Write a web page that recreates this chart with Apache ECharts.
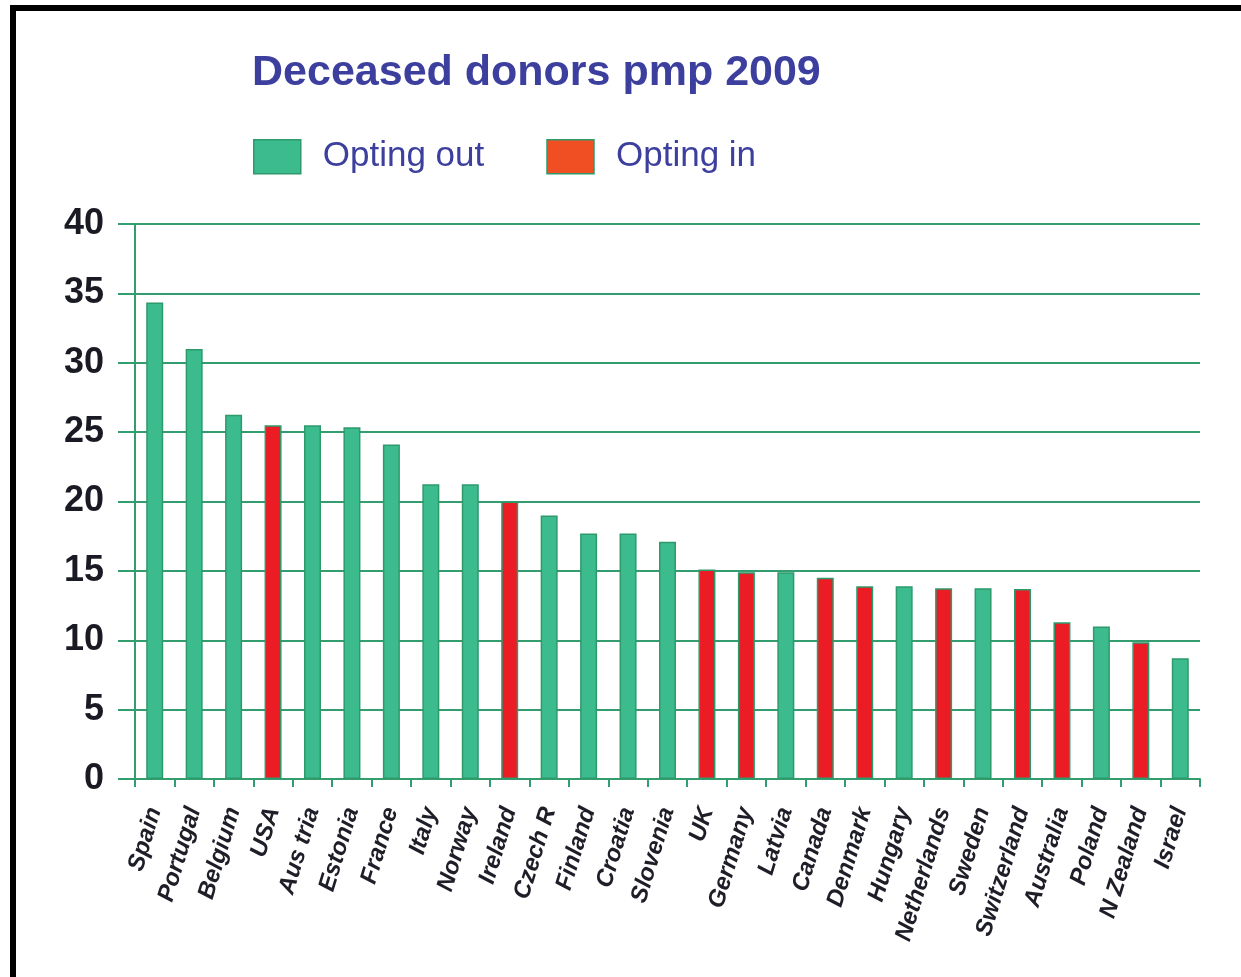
<!DOCTYPE html>
<html>
<head>
<meta charset="utf-8">
<script src="https://cdn.jsdelivr.net/npm/echarts@6/dist/echarts.min.js"></script>
<style>
html,body{margin:0;padding:0;background:#fff;}
#chart{width:1241px;height:977px;}
</style>
</head>
<body>
<div id="chart"></div>
<script>
const categories = ['Spain','Portugal','Belgium','USA','Aus tria','Estonia','France','Italy','Norway','Ireland','Czech R','Finland','Croatia','Slovenia','UK','Germany','Latvia','Canada','Denmark','Hungary','Netherlands','Sweden','Switzerland','Australia','Poland','N Zealand','Israel'];
const values = [34.35,31.0,26.25,25.5,25.5,25.35,24.1,21.25,21.25,20.0,19.0,17.7,17.7,17.1,15.1,14.9,14.9,14.5,13.9,13.9,13.75,13.75,13.7,11.3,11.0,9.85,8.7];
const policy = ['out','out','out','in','out','out','out','out','out','in','out','out','out','out','in','in','out','in','in','out','in','out','in','in','out','in','out'];
const yTicks = [0,5,10,15,20,25,30,35,40];

const outData = values.map((v,i)=> policy[i]==='out' ? v : '-');
const inData = values.map((v,i)=> policy[i]==='in' ? v : '-');

const green = '#3cbb8e', greenEdge = '#2e9a6c', red = '#ec1c24', navy = '#3c3f9d', axisGreen = '#339d70';

const chart = echarts.init(document.getElementById('chart'));
chart.setOption({
  backgroundColor: '#fff',
  animation: false,
  title: {
    text: 'Deceased donors pmp 2009',
    left: 252, top: 52, padding: 0,
    textStyle: {color: navy, fontSize: 43, fontWeight: 'bold', fontFamily: 'Liberation Sans, Arial, sans-serif'}
  },
  legend: {
    left: 253, top: 139, padding: 0,
    itemWidth: 47, itemHeight: 34, itemGap: 62,
    icon: 'rect',
    textStyle: {color: navy, fontSize: 35, fontFamily: 'Liberation Sans, Arial, sans-serif', padding: [0,0,0,17]},
    data: [
      {name: 'Opting out', itemStyle: {color: green, borderColor: greenEdge, borderWidth: 1.5}},
      {name: 'Opting in', itemStyle: {color: '#f04f24', borderColor: greenEdge, borderWidth: 1.5}}
    ]
  },
  graphic: [
    {type: 'rect', shape: {x: 10, y: 5, width: 1231, height: 6}, style: {fill: '#000'}},
    {type: 'rect', shape: {x: 10, y: 5, width: 6, height: 972}, style: {fill: '#000'}}
  ],
  grid: {left: 135, right: 41, top: 224, bottom: 198, containLabel: false},
  xAxis: {
    type: 'category',
    data: categories,
    boundaryGap: true,
    axisLine: {lineStyle: {color: axisGreen, width: 2}},
    axisTick: {show: true, alignWithLabel: false, length: 8, lineStyle: {color: axisGreen, width: 2}},
    axisLabel: {
      interval: 0, rotate: 73, margin: 29,
      color: '#1e1e28', fontSize: 24, fontWeight: 'bold', fontStyle: 'italic',
      fontFamily: 'Liberation Sans, Arial, sans-serif'
    }
  },
  yAxis: {
    type: 'value', min: yTicks[0], max: yTicks[yTicks.length-1], interval: 5,
    axisLine: {show: true, lineStyle: {color: axisGreen, width: 2}},
    axisTick: {show: true, length: 17, lineStyle: {color: axisGreen, width: 2}},
    splitLine: {lineStyle: {color: axisGreen, width: 2}},
    axisLabel: {margin: 31, color: '#1a1a24', fontSize: 36, fontWeight: 'bold', fontFamily: 'Liberation Sans, Arial, sans-serif'}
  },
  series: [
    {name: 'Opting out', type: 'bar', stack: 'd', data: outData, barWidth: 17,
     itemStyle: {color: green, borderColor: greenEdge, borderWidth: 1.5}},
    {name: 'Opting in', type: 'bar', stack: 'd', data: inData, barWidth: 17,
     itemStyle: {color: red, borderColor: greenEdge, borderWidth: 1.5}}
  ]
});
</script>
</body>
</html>
